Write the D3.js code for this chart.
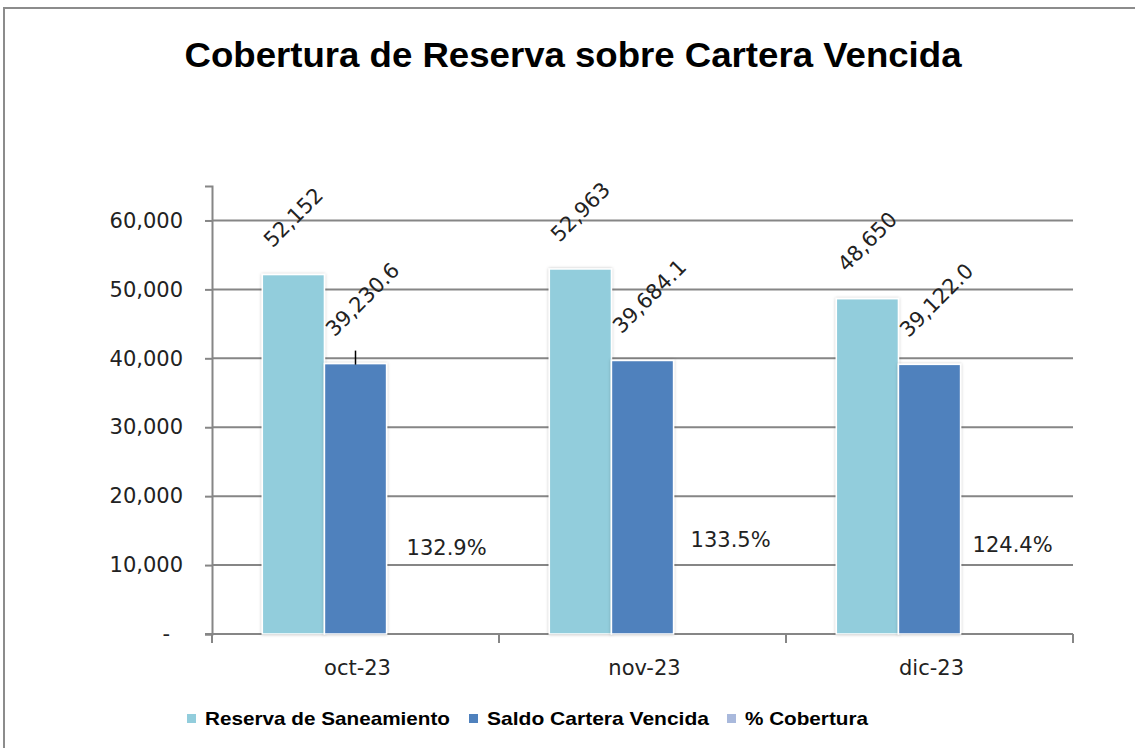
<!DOCTYPE html>
<html>
<head>
<meta charset="utf-8">
<script src="https://cdn.jsdelivr.net/npm/d3@7"></script>
<style>
  body { margin: 0; background: #fff; }
  svg { display: block; }
</style>
</head>
<body>
<svg id="chart" width="1135" height="748"></svg>
<script>
const width = 1135;
const height = 748;

// data
const categories = ["oct-23", "nov-23", "dic-23"];
const seriesNames = ["Reserva de Saneamiento", "Saldo Cartera Vencida", "% Cobertura"];
const reserva = [52152, 52963, 48650];
const saldo = [39230.6, 39684.1, 39122.0];
const cobertura = [132.9, 133.5, 124.4];
const yTicks = [0, 10000, 20000, 30000, 40000, 50000, 60000];
const colors = ["#92cddc", "#4f81bd", "#a9b9dc"];

const svg = d3.select("#chart");

// frame around the chart
svg.append("rect")
    .attr("x", 4).attr("y", 8)
    .attr("width", width + 10).attr("height", height + 10)
    .attr("fill", "#fff")
    .attr("stroke", "#8c8c8c")
    .attr("stroke-width", 2);

const defs = svg.append("defs");
const shadow = defs.append("filter").attr("id", "shadow")
    .attr("x", "-20%").attr("y", "-20%").attr("width", "140%").attr("height", "140%");
shadow.append("feDropShadow")
    .attr("dx", 0).attr("dy", 0).attr("stdDeviation", 1.5)
    .attr("flood-color", "#000").attr("flood-opacity", 0.25);

// title
svg.append("text")
    .attr("x", 573).attr("y", 67)
    .attr("text-anchor", "middle")
    .attr("font-family", "Liberation Sans Narrow, Arial Narrow, sans-serif")
    .attr("font-weight", "bold")
    .attr("font-size", 35)
    .attr("textLength", 777)
    .attr("lengthAdjust", "spacingAndGlyphs")
    .text("Cobertura de Reserva sobre Cartera Vencida");

const x0 = d3.scaleBand().domain(categories).range([212, 1073]);
const x1 = d3.scaleBand().domain(seriesNames).range([0, x0.bandwidth()]).paddingOuter(0.81);
const y = d3.scaleLinear().domain([0, 65000]).range([634, 186]);

const axisFont = "DejaVu Sans, Verdana, sans-serif";
const grey = "#868686";
const fs = 21;

// gridlines + y axis
const yAxis = d3.axisLeft(y)
    .tickValues(yTicks)
    .tickSize(7)
    .tickFormat(d => d === 0 ? "-" : d3.format(",")(d));
const gy = svg.append("g").attr("transform", "translate(212,0)").call(yAxis);
gy.select(".domain").attr("stroke", grey).attr("stroke-width", 2);
gy.selectAll(".tick line").attr("stroke", grey).attr("stroke-width", 2);
gy.selectAll(".tick text")
    .attr("x", -29)
    .attr("font-family", axisFont)
    .attr("font-size", fs)
    .attr("fill", "#222")
    .attr("dx", d => d === 0 ? -13 : 0);

svg.append("g").selectAll("line")
    .data(yTicks.filter(d => d > 0))
    .join("line")
    .attr("x1", 212).attr("x2", 1073)
    .attr("y1", d => y(d)).attr("y2", d => y(d))
    .attr("stroke", grey).attr("stroke-width", 2);

// x axis
const gx = svg.append("g").attr("transform", "translate(0,634)");
gx.append("line")
    .attr("x1", 205).attr("x2", 1073)
    .attr("stroke", grey).attr("stroke-width", 2);
gx.selectAll("line.tk")
    .data(categories.map(c => x0(c)).concat([x0.range()[1]]))
    .join("line").attr("class", "tk")
    .attr("x1", d => d).attr("x2", d => d)
    .attr("y1", 0).attr("y2", 9)
    .attr("stroke", grey).attr("stroke-width", 2);
gx.selectAll("text")
    .data(categories)
    .join("text")
    .attr("x", d => x0(d) + x0.bandwidth() / 2 + 2)
    .attr("y", 41)
    .attr("text-anchor", "middle")
    .attr("font-family", axisFont)
    .attr("font-size", fs)
    .attr("fill", "#222")
    .text(d => d);

// bars
const rows = categories.map((c, i) => ({ cat: c, values: [reserva[i], saldo[i], cobertura[i]] }));
const groups = svg.append("g").selectAll("g")
    .data(rows)
    .join("g")
    .attr("transform", d => `translate(${x0(d.cat)},0)`);

groups.selectAll("rect")
    .data(d => d.values.slice(0, 2).map((v, j) => ({ name: seriesNames[j], v, j })))
    .join("rect")
    .attr("x", d => x1(d.name))
    .attr("y", d => y(d.v))
    .attr("width", x1.bandwidth())
    .attr("height", d => y(0) - y(d.v))
    .attr("fill", d => colors[d.j])
    .attr("stroke", "#fff")
    .attr("stroke-width", 1.5)
    .attr("filter", "url(#shadow)");

// rotated value labels
const fmt0 = d3.format(",.0f");
const fmt1 = d3.format(",.1f");
groups.selectAll("text.val")
    .data(d => d.values.slice(0, 2).map((v, j) => ({ name: seriesNames[j], v, j })))
    .join("text").attr("class", "val")
    .attr("transform", d => {
        const cx = x1(d.name) + x1.bandwidth() / 2 - 21;
        const cy = y(d.v) - 26;
        return `translate(${cx},${cy}) rotate(-45)`;
    })
    .attr("font-family", axisFont)
    .attr("font-size", fs)
    .attr("fill", "#222")
    .text(d => d.j === 0 ? fmt0(d.v) : fmt1(d.v));

// percentage labels (third series, bar not visible)
const pctOffsets = [[20, -79], [17, -87], [12, -82]];
groups.append("text")
    .attr("x", (d, i) => x1(seriesNames[2]) + pctOffsets[i][0])
    .attr("y", (d, i) => y(0) + pctOffsets[i][1])
    .attr("font-family", axisFont)
    .attr("font-size", fs)
    .attr("fill", "#222")
    .text(d => d3.format(".1f")(d.values[2]) + "%");

// small error tick on the first dark bar
svg.append("line")
    .attr("x1", x0(categories[0]) + x1(seriesNames[1]) + x1.bandwidth() / 2)
    .attr("x2", x0(categories[0]) + x1(seriesNames[1]) + x1.bandwidth() / 2)
    .attr("y1", y(saldo[0]) - 13).attr("y2", y(saldo[0]) + 1)
    .attr("stroke", "#000").attr("stroke-width", 1.5);

// legend
const legendItems = [
    { name: seriesNames[0], x: 187, w: 245 },
    { name: seriesNames[1], x: 469, w: 222 },
    { name: seriesNames[2], x: 727, w: 123 }
];
const lg = svg.append("g").selectAll("g")
    .data(legendItems)
    .join("g")
    .attr("transform", d => `translate(${d.x},714)`);
lg.append("rect")
    .attr("width", 9).attr("height", 9)
    .attr("fill", (d, i) => colors[i]);
lg.append("text")
    .attr("x", 18).attr("y", 11)
    .attr("font-family", "Liberation Sans Narrow, Arial Narrow, sans-serif")
    .attr("font-weight", "bold")
    .attr("font-size", 19)
    .attr("textLength", d => d.w)
    .attr("lengthAdjust", "spacingAndGlyphs")
    .text(d => d.name);
</script>
</body>
</html>
